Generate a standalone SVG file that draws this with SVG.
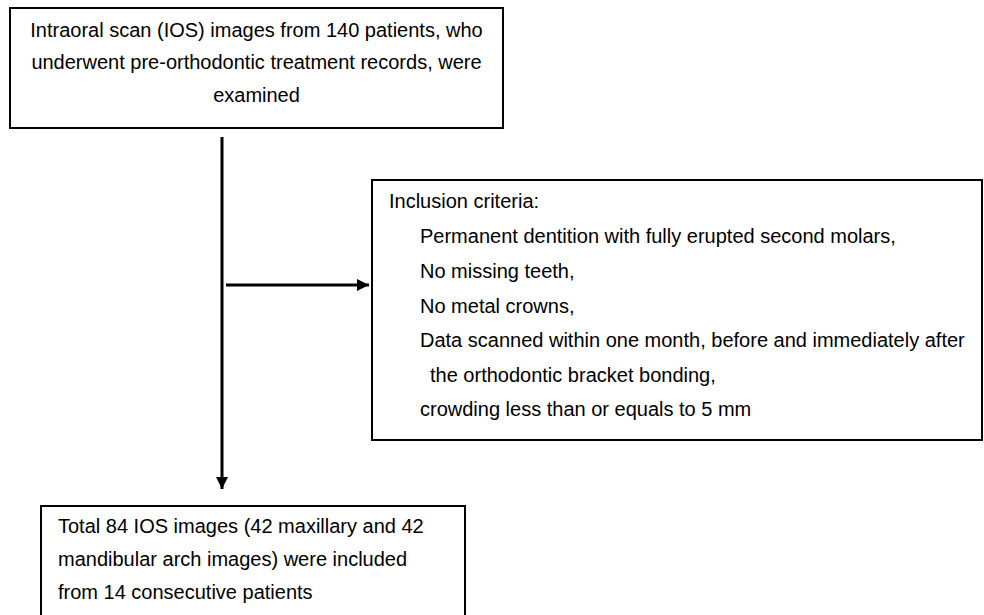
<svg xmlns="http://www.w3.org/2000/svg" width="984" height="615" viewBox="0 0 984 615">
<style>
  .box { fill: #ffffff; stroke: #000000; stroke-width: 2; }
  .t { font-family: "Liberation Sans", Arial, sans-serif; font-size: 20px; fill: #000000; }
  .c { text-anchor: middle; }
  .edge { stroke: #000000; stroke-width: 3; fill: none; }
</style>
<defs>
  <marker id="arr" viewBox="0 0 10 10" refX="10" refY="5" markerWidth="4" markerHeight="4" markerUnits="strokeWidth" orient="auto">
    <path d="M0,0 L10,5 L0,10 Z" fill="#000000"/>
  </marker>
</defs>
<rect width="984" height="615" fill="#ffffff"/>
<g id="connectors">
  <line class="edge" x1="222" y1="137" x2="222" y2="489" marker-end="url(#arr)"/>
  <line class="edge" x1="226" y1="285" x2="369" y2="285" marker-end="url(#arr)"/>
</g>
<g id="node-start">
  <rect class="box" x="10" y="8" width="493" height="120"/>
  <text class="t c" x="256.5" y="37">Intraoral scan (IOS) images from 140 patients, who</text>
  <text class="t c" x="256.5" y="69">underwent pre-orthodontic treatment records, were</text>
  <text class="t c" x="256.5" y="102">examined</text>
</g>
<g id="node-inclusion">
  <rect class="box" x="372" y="180" width="610" height="260"/>
  <text class="t" x="389" y="208">Inclusion criteria:</text>
  <text class="t" x="420" y="243">Permanent dentition with fully erupted second molars,</text>
  <text class="t" x="420" y="278">No missing teeth,</text>
  <text class="t" x="420" y="313">No metal crowns,</text>
  <text class="t" x="420" y="347">Data scanned within one month, before and immediately after</text>
  <text class="t" x="430" y="382">the orthodontic bracket bonding,</text>
  <text class="t" x="420" y="416">crowding less than or equals to 5 mm</text>
</g>
<g id="node-result">
  <rect class="box" x="41" y="506" width="424" height="130"/>
  <text class="t" x="58" y="533">Total 84 IOS images (42 maxillary and 42</text>
  <text class="t" x="58" y="566">mandibular arch images) were included</text>
  <text class="t" x="58" y="599">from 14 consecutive patients</text>
</g>
</svg>
